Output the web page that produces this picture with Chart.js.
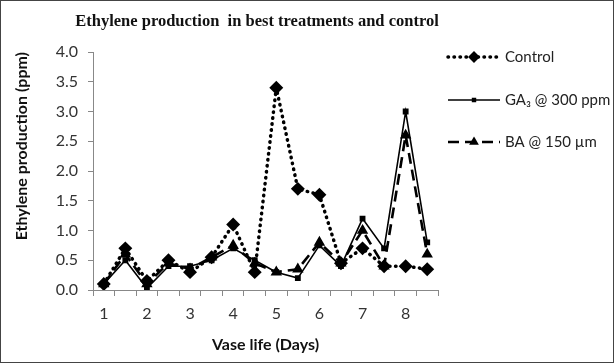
<!DOCTYPE html>
<html>
<head>
<meta charset="utf-8">
<script src="https://cdn.jsdelivr.net/npm/chart.js@4.4.0/dist/chart.umd.min.js"></script>
<style>
  html, body { margin: 0; padding: 0; background: #fff; }
  #wrap { width: 614px; height: 363px; box-sizing: border-box; border: 1px solid #444; position: relative; }
  canvas { display: block; }
</style>
</head>
<body>
<div id="wrap"><canvas id="ethylene__graph" width="612" height="361"></canvas></div>
<script>
const dayLabels = ['1', '', '2', '', '3', '', '4', '', '5', '', '6', '', '7', '', '8', ''];
const controlValues = [0.1, 0.7, 0.15, 0.5, 0.3, 0.55, 1.1, 0.3, 3.4, 1.7, 1.6, 0.45, 0.7, 0.4, 0.4, 0.35];
const ga3Values = [0.1, 0.5, 0.03, 0.4, 0.4, 0.5, 0.7, 0.5, 0.3, 0.2, 0.75, 0.4, 1.2, 0.7, 3.0, 0.8];
const baValues = [0.1, 0.6, 0.1, 0.45, 0.35, 0.55, 0.75, 0.45, 0.3, 0.35, 0.8, 0.45, 1.0, 0.4, 2.6, 0.6];
const seriesNames = ['Control', 'GA\u2083 @ 300 ppm', 'BA @ 150 \u00b5m'];

const uiFont = 'Lato, "Open Sans", sans-serif';

// title + legend drawn by hand so they sit like the original
const extrasPlugin = {
    id: 'extras',
    afterDraw(chart) {
        const ctx = chart.ctx;
        ctx.save();
        ctx.fillStyle = '#111';
        ctx.font = 'bold 16.5px "Liberation Serif", "Times New Roman", serif';
        ctx.textAlign = 'center';
        ctx.textBaseline = 'middle';
        ctx.fillText('Ethylene production  in best treatments and control', 256, 21);

        const dsets = chart.data.datasets;
        const x0 = 447, x1 = 499, ys = [56, 99, 141];
        dsets.forEach((ds, i) => {
            const y = ys[i];
            ctx.strokeStyle = '#000';
            ctx.lineWidth = ds.borderWidth;
            ctx.lineCap = ds.borderCapStyle || 'butt';
            ctx.setLineDash(ds.borderDash || []);
            ctx.beginPath();
            ctx.moveTo(x0, y);
            ctx.lineTo(x1, y);
            ctx.stroke();
            ctx.setLineDash([]);
            ctx.fillStyle = '#000';
            Chart.helpers.drawPoint(ctx, {
                pointStyle: ds.pointStyle,
                radius: ds.pointRadius - 1,
                borderWidth: 1
            }, (x0 + x1) / 2, y);
            ctx.fillStyle = '#222';
            ctx.font = '15px ' + uiFont;
            ctx.textAlign = 'left';
            ctx.fillText(ds.label, x1 + 5, y);
        });
        ctx.restore();
    }
};

const ctxEth = document.getElementById('ethylene__graph').getContext('2d');

const ethyleneChart = new Chart(ctxEth, {
    type: 'line',
    data: {
        labels: dayLabels,
        datasets: [{
            label: seriesNames[0],
            data: controlValues,
            borderColor: '#000',
            backgroundColor: '#000',
            borderWidth: 3.5,
            borderDash: [0.5, 5.5],
            borderCapStyle: 'round',
            pointStyle: 'rectRot',
            pointRadius: 4.5,
            pointBackgroundColor: '#000',
            pointBorderColor: '#000',
            tension: 0
        }, {
            label: seriesNames[1],
            data: ga3Values,
            borderColor: '#000',
            backgroundColor: '#000',
            borderWidth: 1.6,
            pointStyle: 'rect',
            pointRadius: 3,
            pointBackgroundColor: '#000',
            pointBorderColor: '#000',
            tension: 0
        }, {
            label: seriesNames[2],
            data: baValues,
            borderColor: '#000',
            backgroundColor: '#000',
            borderWidth: 2.6,
            borderDash: [11, 6],
            pointStyle: 'triangle',
            pointRadius: 4,
            pointBackgroundColor: '#000',
            pointBorderColor: '#000',
            tension: 0
        }]
    },
    options: {
        responsive: false,
        animation: false,
        layout: {
            padding: { left: 0, right: 175, top: 51, bottom: 0 }
        },
        plugins: {
            legend: { display: false },
            title: { display: false },
            tooltip: { enabled: false }
        },
        scales: {
            x: {
                offset: true,
                afterFit: scale => { scale.height = 72; },
                grid: {
                    offset: true,
                    drawOnChartArea: false,
                    drawTicks: true,
                    tickLength: 6,
                    color: '#888'
                },
                border: { color: '#888' },
                ticks: {
                    autoSkip: false,
                    maxRotation: 0,
                    color: '#333',
                    font: { family: uiFont, size: 16 },
                    padding: 8
                },
                title: {
                    display: true,
                    text: 'Vase life (Days)',
                    color: '#111',
                    font: { family: uiFont, size: 16, weight: 'bold' },
                    padding: { top: 4, bottom: 8 }
                }
            },
            y: {
                min: 0,
                max: 4,
                afterFit: scale => { scale.width = 92; },
                grid: {
                    drawOnChartArea: false,
                    drawTicks: true,
                    tickLength: 5,
                    color: '#888'
                },
                border: { color: '#888' },
                ticks: {
                    stepSize: 0.5,
                    color: '#333',
                    font: { family: uiFont, size: 16 },
                    padding: 10,
                    callback: v => v.toFixed(1)
                },
                title: {
                    display: true,
                    align: 'end',
                    text: 'Ethylene production (ppm)',
                    color: '#111',
                    font: { family: uiFont, size: 16, weight: 'bold' },
                    padding: { top: 11, bottom: 6 }
                }
            }
        }
    },
    plugins: [extrasPlugin]
});
</script>
</body>
</html>
